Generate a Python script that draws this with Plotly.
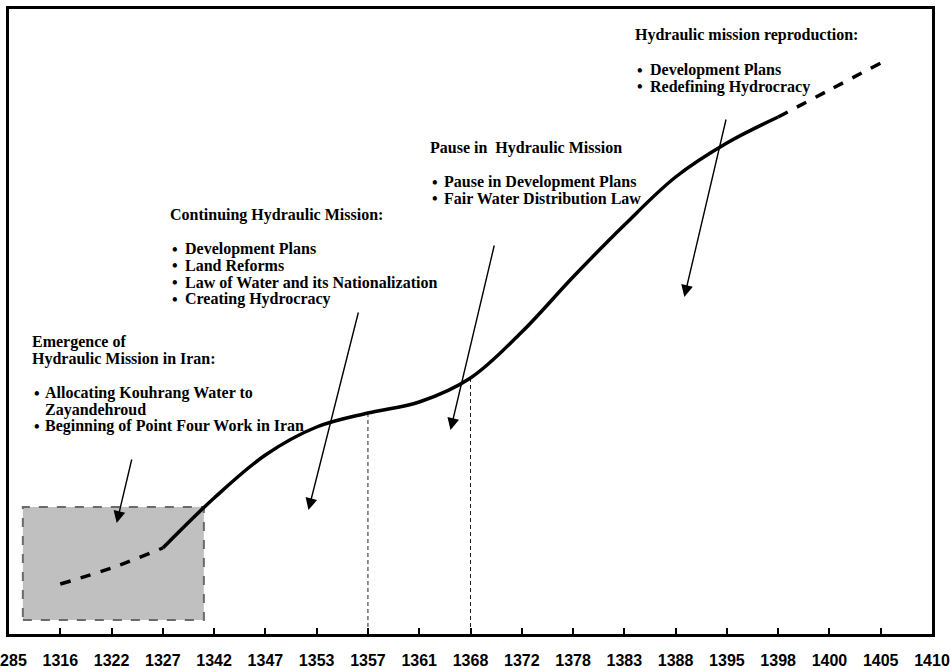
import plotly.graph_objects as go

# ---- data ----
tick_labels = ["1285", "1316", "1322", "1327", "1342", "1347", "1353", "1357", "1361",
               "1368", "1372", "1378", "1383", "1388", "1395", "1398", "1400", "1405", "1410"]

early_x = ["1316", "1322", "1327"]
early_y = [50, 66, 86]

main_x = ["1327", "1342", "1347", "1353", "1357", "1361", "1368", "1372", "1378",
          "1383", "1388", "1395", "1398"]
main_y = [86, 136, 179, 207, 221, 232, 256, 302, 357, 409, 457, 491, 517]

future_x = ["1398", "1400", "1405"]
future_y = [517, 544, 571]

marker_years = ["1357", "1368"]
marker_levels = [221, 256]

blocks = [
    {"header": ["Emergence of", "Hydraulic Mission in Iran:"],
     "bullets": [["Allocating Kouhrang Water to", "Zayandehroud"],
                 ["Beginning of Point Four Work in Iran"]]},
    {"header": ["Continuing Hydraulic Mission:"],
     "bullets": [["Development Plans"], ["Land Reforms"],
                 ["Law of Water and its Nationalization"], ["Creating Hydrocracy"]]},
    {"header": ["Pause in  Hydraulic Mission"],
     "bullets": [["Pause in Development Plans"], ["Fair Water Distribution Law"]]},
    {"header": ["Hydraulic mission reproduction:"],
     "bullets": [["Development Plans"], ["Redefining Hydrocracy"]]},
]

# ---- layout geometry (page pixels; body margin removed in post_script) ----
W, H = 950, 668
PL, PR, PT, PB = 9, 932, 9, 634          # plot frame in page pixels
def px(x):
    return (x - PL) / (PR - PL)
def py(y):
    return (PB - y) / (PB - PT)

block_pos = [  # header x, header first y, bullet x, text x, first bullet y (page px)
    (30, 342, 32, 43, 393),
    (168, 215, 170, 183, 249),
    (428, 148, 430, 442, 182),
    (633, 35, 635, 648, 70),
]
LINE = 16.7
FS = 16
serif = "Liberation Serif"

fig = go.Figure()

fig.add_trace(go.Scatter(x=early_x, y=early_y, mode="lines", line_shape="spline",
                         line=dict(color="black", width=3.5, dash="dash"), showlegend=False))
fig.add_trace(go.Scatter(x=main_x, y=main_y, mode="lines", line_shape="spline",
                         line=dict(color="black", width=3.5), showlegend=False))
fig.add_trace(go.Scatter(x=future_x, y=future_y, mode="lines", line_shape="spline",
                         line=dict(color="black", width=3.5, dash="dash"), showlegend=False))

shapes = []
# grey shaded box around the early period
shapes.append(dict(type="rect", xref="x", yref="y", x0=0.27, x1=3.8, y0=14, y1=127,
                   fillcolor="#c0c0c0", line=dict(color="#6a6a6a", width=2, dash="dash"),
                   layer="below"))
for yr, lv in zip(marker_years, marker_levels):
    i = tick_labels.index(yr)
    shapes.append(dict(type="line", xref="x", yref="y", x0=i, x1=i, y0=0, y1=lv,
                       line=dict(color="#222222", width=1, dash="4px,3px"), layer="below"))

annotations = []
# arrows: (tip_x, tip_y, tail_x, tail_y) in axis index / level
arrows = [(2.10, 111, 2.40, 176), (5.84, 124, 6.82, 323),
          (8.61, 204, 9.47, 390), (13.17, 337, 13.99, 516)]
for tx, ty, sx, sy in arrows:
    annotations.append(dict(x=tx, y=ty, ax=sx, ay=sy, xref="x", yref="y", axref="x", ayref="y",
                            showarrow=True, arrowhead=2, arrowsize=1.7, arrowwidth=1.4,
                            arrowcolor="black", text=""))

for b, (hx, hy, bx, tx, by) in zip(blocks, block_pos):
    for k, line in enumerate(b["header"]):
        annotations.append(dict(x=px(hx), y=py(hy + k * LINE), xref="paper", yref="paper",
                                xanchor="left", yanchor="middle", showarrow=False,
                                text="<b>%s</b>" % line,
                                font=dict(family=serif, size=FS, color="black")))
    yy = by
    for bul in b["bullets"]:
        annotations.append(dict(x=px(bx), y=py(yy), xref="paper", yref="paper",
                                xanchor="left", yanchor="middle", showarrow=False,
                                text="<b>•</b>", font=dict(family=serif, size=FS, color="black")))
        for line in bul:
            annotations.append(dict(x=px(tx), y=py(yy), xref="paper", yref="paper",
                                    xanchor="left", yanchor="middle", showarrow=False,
                                    text="<b>%s</b>" % line,
                                    font=dict(family=serif, size=FS, color="black")))
            yy += LINE

fig.update_layout(
    width=W, height=H,
    margin=dict(l=PL, r=W - PR, t=PT, b=H - PB, autoexpand=False),
    paper_bgcolor="white", plot_bgcolor="white",
    shapes=shapes, annotations=annotations, showlegend=False,
    xaxis=dict(type="category", categoryorder="array", categoryarray=tick_labels,
               range=[0, len(tick_labels) - 1], tickvals=tick_labels, ticktext=tick_labels,
               showgrid=False, zeroline=False, showline=True, linecolor="black", linewidth=3,
               mirror=True, ticks="inside", ticklen=6, tickwidth=2, tickcolor="black",
               ticklabelstandoff=10,
               tickfont=dict(family="Liberation Sans", size=16, color="black", weight="bold"),
               automargin=False, fixedrange=True),
    yaxis=dict(range=[0, PB - PT], showgrid=False, zeroline=False, showticklabels=False,
               showline=True, linecolor="black", linewidth=3, mirror=True, ticks="",
               automargin=False, fixedrange=True),
)

fig.write_html("out.html", config={"displayModeBar": False},
               post_script="document.body.style.margin='0';document.body.style.overflow='hidden';")
